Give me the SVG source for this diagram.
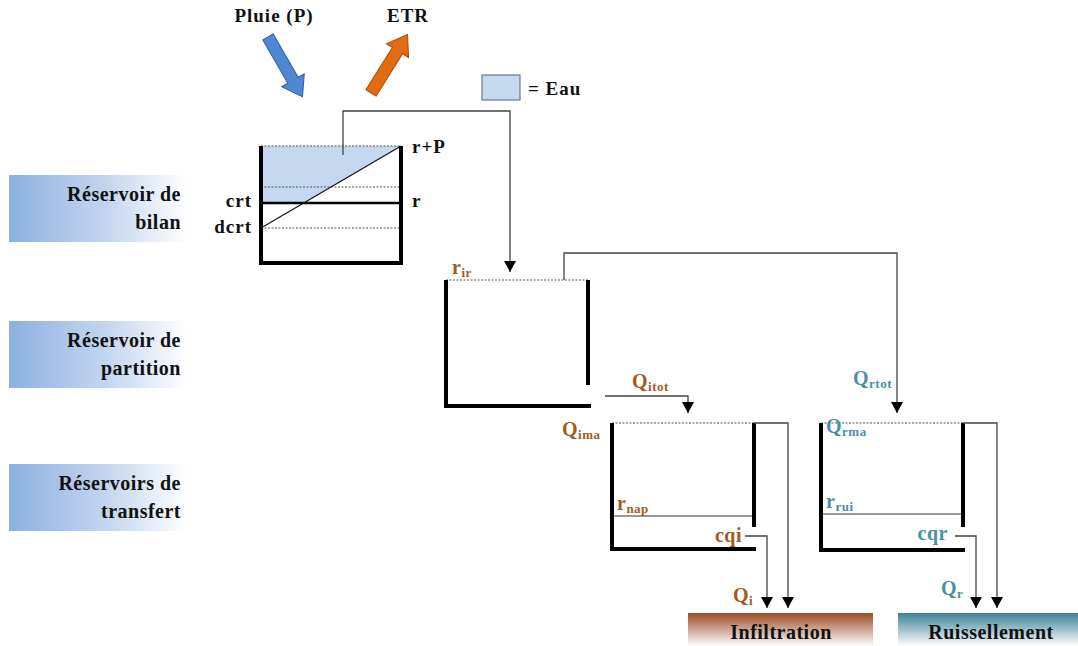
<svg xmlns="http://www.w3.org/2000/svg" width="1078" height="646" viewBox="0 0 1078 646">
<defs>
<linearGradient id="gBlue" x1="0" y1="0" x2="1" y2="0">
<stop offset="0" stop-color="#8db0e0"/><stop offset="0.55" stop-color="#c4d6ef"/><stop offset="1" stop-color="#ffffff"/>
</linearGradient>
<linearGradient id="gBrown" x1="0" y1="0" x2="0" y2="1">
<stop offset="0" stop-color="#9b4b25"/><stop offset="1" stop-color="#ffffff"/>
</linearGradient>
<linearGradient id="gTeal" x1="0" y1="0" x2="0" y2="1">
<stop offset="0" stop-color="#3a8196"/><stop offset="1" stop-color="#ffffff"/>
</linearGradient>
<marker id="ah" markerWidth="11" markerHeight="12" refX="11" refY="6" orient="auto" markerUnits="userSpaceOnUse">
<path d="M0,0 L11,6 L0,12 Z" fill="#000"/>
</marker>
<style>
text{font-family:"Liberation Serif","Times New Roman",serif;font-weight:bold;}
.lab{font-size:20px;fill:#111;letter-spacing:0.5px;}
.t{font-size:19px;fill:#111;letter-spacing:1px;}
.br{font-size:20px;fill:#a35a22;letter-spacing:0.5px;}
.tl{font-size:20px;fill:#4a8fa3;letter-spacing:0.5px;}
.sub{font-size:13px;}
.wall{stroke:#000;stroke-width:4;fill:none;}
.dot{stroke:#555;stroke-width:1.2;stroke-dasharray:2,1.5;fill:none;}
.conn{stroke:#444;stroke-width:1.3;fill:none;marker-end:url(#ah);}
</style>
</defs>

<g id="label-bilan">
<rect x="9" y="175" width="178" height="67" fill="url(#gBlue)"/>
<text class="lab" x="181" y="201" text-anchor="end">Réservoir de</text>
<text class="lab" x="181" y="229" text-anchor="end">bilan</text>
</g>
<g id="label-partition">
<rect x="9" y="321" width="178" height="67" fill="url(#gBlue)"/>
<text class="lab" x="181" y="347" text-anchor="end">Réservoir de</text>
<text class="lab" x="181" y="375" text-anchor="end">partition</text>
</g>
<g id="label-transfert">
<rect x="9" y="464" width="178" height="67" fill="url(#gBlue)"/>
<text class="lab" x="181" y="490" text-anchor="end">Réservoirs de</text>
<text class="lab" x="181" y="518" text-anchor="end">transfert</text>
</g>

<g id="pluie">
<text class="t" x="274" y="22" text-anchor="middle">Pluie (P)</text>
<polygon transform="translate(268,37) rotate(60)" points="0,-6 50,-6 50,-13 69,0 50,13 50,6 0,6" fill="#4f87d3" stroke="#2f5f9f" stroke-width="1"/>
</g>
<g id="etr">
<text class="t" x="408" y="22" text-anchor="middle">ETR</text>
<polygon transform="translate(371,93) rotate(-58)" points="0,-6 50,-6 50,-13 69,0 50,13 50,6 0,6" fill="#e26c12" stroke="#a34b0c" stroke-width="1"/>
</g>
<g id="legend">
<rect x="482" y="75" width="38" height="25" fill="#c5d8ef" stroke="#6a7a8a" stroke-width="1.2"/>
<text class="t" x="528" y="95">= Eau</text>
</g>

<g id="reservoir-bilan">
<polygon points="261,146 401,146 305,202 261,202" fill="#c5d8ef"/>
<line class="dot" x1="261" y1="146" x2="401" y2="146"/>
<line class="dot" x1="261" y1="187" x2="401" y2="187"/>
<line class="dot" x1="261" y1="228" x2="401" y2="228"/>
<line x1="261" y1="203" x2="401" y2="203" stroke="#000" stroke-width="2.5"/>
<line x1="261" y1="228" x2="401" y2="146" stroke="#111" stroke-width="1.2"/>
<path class="wall" d="M261,146 V263 H401 V146"/>
<text class="t" x="412" y="153">r+P</text>
<text class="t" x="412" y="207">r</text>
<text class="t" x="252" y="207" text-anchor="end">crt</text>
<text class="t" x="252" y="233" text-anchor="end">dcrt</text>
</g>

<g id="reservoir-partition">
<line class="dot" x1="446" y1="280" x2="588" y2="280"/>
<path class="wall" d="M446,280 V406 H591"/>
<line class="wall" x1="588" y1="280" x2="588" y2="385"/>
<text class="br" x="452" y="274">r<tspan class="sub" dy="3">ir</tspan></text>
</g>

<g id="reservoir-infiltration">
<line class="dot" x1="612" y1="423" x2="754" y2="423"/>
<line x1="612" y1="516" x2="754" y2="516" stroke="#333" stroke-width="1.2"/>
<path class="wall" d="M612,423 V549 H756"/>
<line class="wall" x1="754" y1="423" x2="754" y2="527"/>
<text class="br" x="562" y="436">Q<tspan class="sub" dy="3">ima</tspan></text>
<text class="br" x="617" y="510">r<tspan class="sub" dy="3">nap</tspan></text>
<text class="br" x="742" y="542" text-anchor="end">cqi</text>
<text class="br" x="733" y="602">Q<tspan class="sub" dy="3">i</tspan></text>
</g>

<g id="reservoir-ruissellement">
<line class="dot" x1="821" y1="423" x2="963" y2="423"/>
<line x1="821" y1="514" x2="963" y2="514" stroke="#333" stroke-width="1.2"/>
<path class="wall" d="M821,423 V550 H965"/>
<line class="wall" x1="963" y1="423" x2="963" y2="527"/>
<text class="tl" x="826" y="433">Q<tspan class="sub" dy="3">rma</tspan></text>
<text class="tl" x="826" y="508">r<tspan class="sub" dy="3">rui</tspan></text>
<text class="tl" x="948" y="540" text-anchor="end">cqr</text>
<text class="tl" x="941" y="595">Q<tspan class="sub" dy="3">r</tspan></text>
</g>

<g id="infiltration">
<rect x="688" y="613" width="185" height="33" fill="url(#gBrown)"/>
<text class="lab" x="781" y="639" text-anchor="middle">Infiltration</text>
</g>
<g id="ruissellement">
<rect x="898" y="613" width="180" height="33" fill="url(#gTeal)"/>
<text class="lab" x="991" y="639" text-anchor="middle">Ruissellement</text>
</g>

<g id="connectors">
<path class="conn" d="M343,155 V111 H510 V272"/>
<path class="conn" d="M564,280 V253 H897 V413"/>
<path class="conn" d="M605,396 H688 V413"/>
<text class="br" x="632" y="388">Q<tspan class="sub" dy="3">itot</tspan></text>
<text class="tl" x="853" y="385">Q<tspan class="sub" dy="3">rtot</tspan></text>
<path class="conn" d="M754,423 H788 V608"/>
<path class="conn" d="M745,536 H767 V608"/>
<path class="conn" d="M963,423 H997 V608"/>
<path class="conn" d="M955,536 H976 V608"/>
</g>
</svg>
